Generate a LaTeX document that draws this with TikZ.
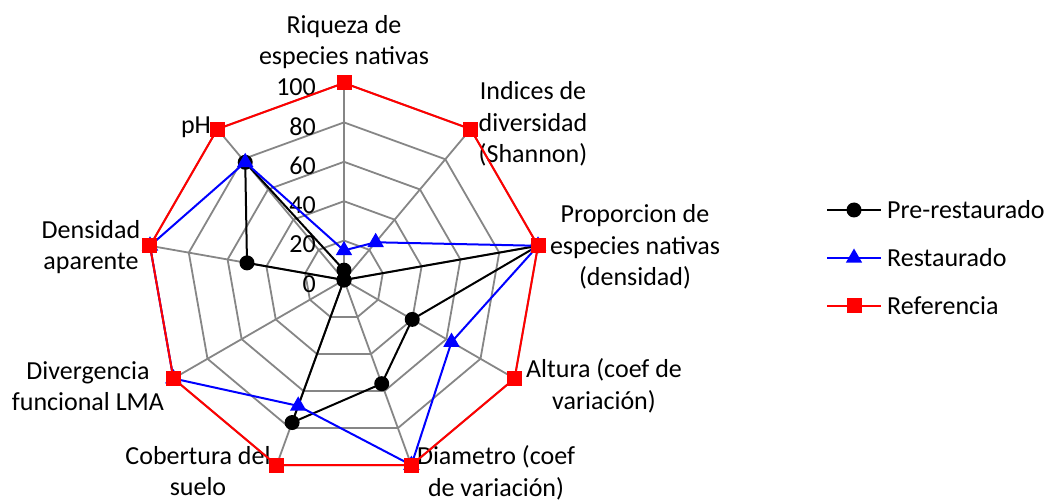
\documentclass[tikz,border=0pt]{standalone}
\usepackage{fontspec}
\setmainfont{Carlito}
\usepackage{xcolor}
\usepackage{tikz}
\usetikzlibrary{shapes.geometric}

\definecolor{gridgray}{RGB}{134,134,134}

\tikzset{
	lbl/.style={font=\fontsize{26}{31.5}\selectfont, inner sep=0pt, align=center},
	gridline/.style={draw=gridgray, line width=1.8pt},
	preline/.style={draw=black, line width=2pt},
	resline/.style={draw=blue, line width=2pt},
	refline/.style={draw=red, line width=2pt},
	predot/.style={circle, fill=black, inner sep=0pt, minimum size=15pt},
	restri/.style={regular polygon, regular polygon sides=3, fill=blue, inner sep=0pt, minimum size=19pt},
	refsq/.style={rectangle, fill=red, inner sep=0pt, minimum size=15pt}
}

\begin{document}
\begin{tikzpicture}[x=1pt, y=1pt]
	\useasboundingbox (0,-502) rectangle (1054,0);
	\coordinate (c) at (344,-280);

	% rejilla
	\begin{scope}[shift={(c)}]
		\foreach \r in {20,40,60,80,100}
			\draw[gridline] (90:{1.97*\r}) \foreach \i in {1,...,8}{ -- ({90-40*\i}:{1.97*\r}) } -- cycle;
		\foreach \i in {0,...,8}
			\draw[gridline] (0,0) -- ({90-40*\i}:197);
		\foreach \r in {0,20,...,100}
			\node[lbl, anchor=east] (tick\r) at (-28,{1.97*\r-4}) {\r};

		\foreach \v [count=\i from 0] in {5,0,100,40,56,77,0,50,78}
			\coordinate (pre\i) at ({90-40*\i}:{1.97*\v});
		\foreach \v [count=\i from 0] in {15,25,100,63,100,68,100,100,78}
			\coordinate (res\i) at ({90-40*\i}:{1.97*\v});
		\foreach \i in {0,...,8}
			\coordinate (ref\i) at ({90-40*\i}:197);
	\end{scope}

	\node[lbl] (riqueza) at (344,-42) {Riqueza de\\especies nativas};
	\node[lbl] (indices) at (533,-124) {Indices de\\diversidad\\(Shannon)};
	\node[lbl] (proporcion) at (635,-247) {Proporcion de\\especies nativas\\(densidad)};
	\node[lbl] (altura) at (604,-386) {Altura (coef de\\variación)};
	\node[lbl] (diametro) at (496,-473) {Diametro (coef\\de variación)};
	\node[lbl] (cobertura) at (198,-471) {Cobertura del\\suelo};
	\node[lbl] (divergencia) at (88,-386) {Divergencia\\funcional LMA};
	\node[lbl] (densidad) at (91,-247) {Densidad\\aparente};
	\node[lbl] (ph) at (196,-127) {pH};

	% series
	\draw[preline] (pre0) \foreach \i in {1,...,8}{ -- (pre\i) } -- cycle;
	\foreach \i in {0,...,8}
		\node[predot] (prem\i) at (pre\i) {};

	\draw[resline] (res0) \foreach \i in {1,...,8}{ -- (res\i) } -- cycle;
	\foreach \i in {0,...,8}
		\node[restri] (resm\i) at (res\i) {};

	\draw[refline] (ref0) \foreach \i in {1,...,8}{ -- (ref\i) } -- cycle;
	\foreach \i in {0,...,8}
		\node[refsq] (refm\i) at (ref\i) {};

	% leyenda
	\coordinate (lgA1) at (827,-210);
	\coordinate (lgB1) at (881,-210);
	\coordinate (lgA2) at (827,-258);
	\coordinate (lgB2) at (881,-258);
	\coordinate (lgA3) at (827,-306);
	\coordinate (lgB3) at (881,-306);

	\draw[preline] (lgA1) -- (lgB1);
	\draw[resline] (lgA2) -- (lgB2);
	\draw[refline] (lgA3) -- (lgB3);

	\node[predot] (lgm1) at (854,-210) {};
	\node[restri] (lgm2) at (854,-258) {};
	\node[refsq] (lgm3) at (854,-306) {};

	\node[lbl, anchor=west] (lgt1) at (887,-210) {Pre-restaurado};
	\node[lbl, anchor=west] (lgt2) at (887,-258) {Restaurado};
	\node[lbl, anchor=west] (lgt3) at (887,-306) {Referencia};
\end{tikzpicture}
\end{document}
